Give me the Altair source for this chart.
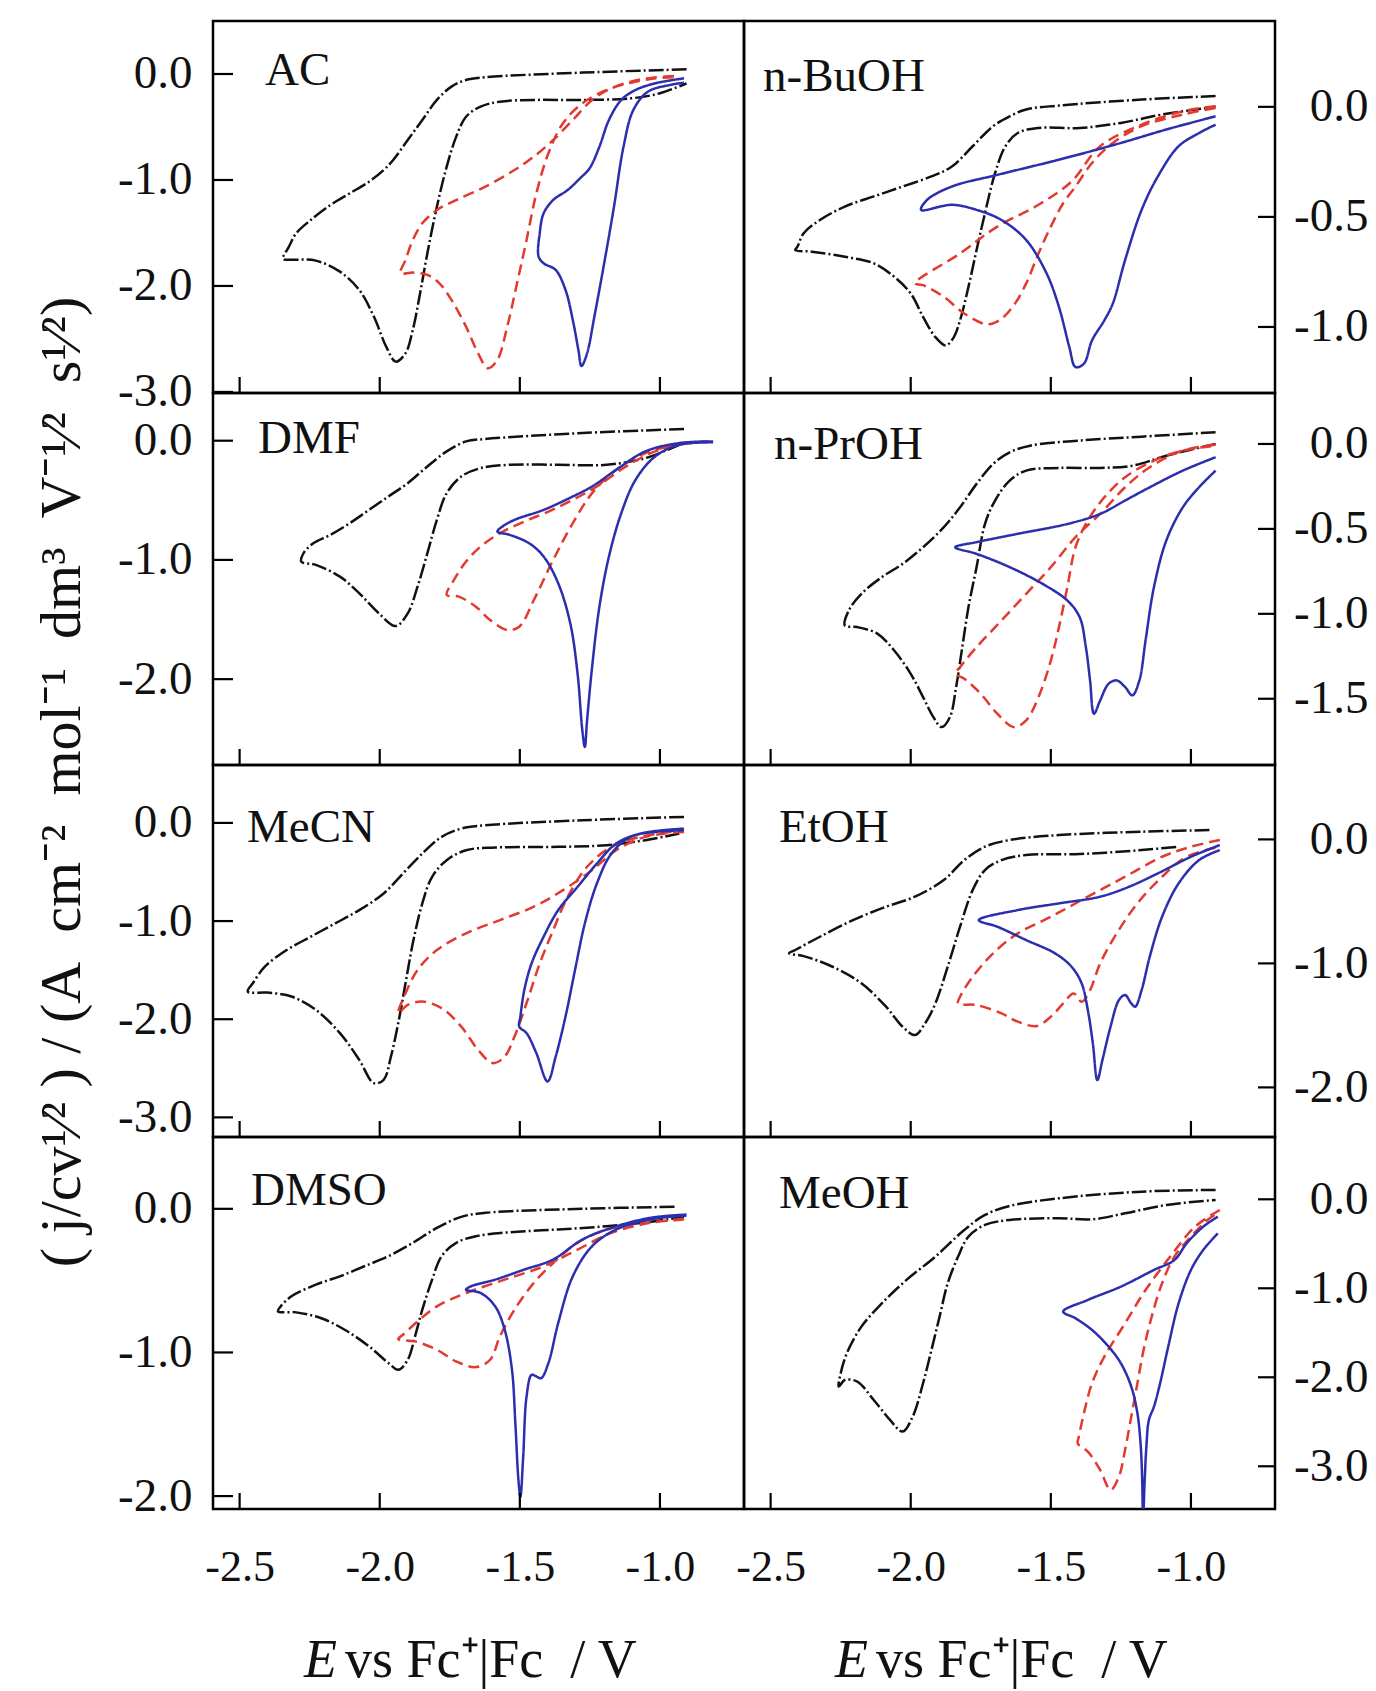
import altair as alt
import pandas as pd

# ---------------- data ----------------
X_DOMAIN = [-2.595, -0.70]
X_TICKS = [-2.5, -2.0, -1.5, -1.0]

PANEL_NAMES = ["AC", "n-BuOH", "DMF", "n-PrOH", "MeCN", "EtOH", "DMSO", "MeOH"]
Y_DOMAINS = [[-3.01, 0.50], [-1.30, 0.39], [-2.72, 0.40], [-1.89, 0.30],
             [-3.20, 0.59], [-2.40, 0.60], [-2.09, 0.50], [-3.48, 0.70]]
Y_TICKS = [[0.0, -1.0, -2.0, -3.0], [0.0, -0.5, -1.0], [0.0, -1.0, -2.0],
           [0.0, -0.5, -1.0, -1.5], [0.0, -1.0, -2.0, -3.0], [0.0, -1.0, -2.0],
           [0.0, -1.0, -2.0], [0.0, -1.0, -2.0, -3.0]]

SERIES = ["dash-dot", "dashed", "solid"]

AC_BLACK = [(-0.905, 0.044), (-1.277, 0.013), (-1.623, -0.031), (-1.692, -0.057), (-1.744, -0.119),
            (-1.796, -0.245), (-1.848, -0.434), (-1.900, -0.623), (-1.952, -0.811), (-1.986, -0.906),
            (-2.038, -1.016), (-2.107, -1.126), (-2.176, -1.236), (-2.246, -1.377), (-2.298, -1.503),
            (-2.324, -1.629), (-2.345, -1.745), (-2.315, -1.752), (-2.228, -1.761), (-2.142, -1.865),
            (-2.073, -2.038), (-2.021, -2.289), (-1.977, -2.572), (-1.943, -2.714), (-1.908, -2.635),
            (-1.882, -2.415), (-1.856, -2.069), (-1.830, -1.692), (-1.796, -1.252), (-1.761, -0.874),
            (-1.727, -0.591), (-1.692, -0.403), (-1.640, -0.308), (-1.571, -0.261), (-1.450, -0.245),
            (-1.277, -0.245), (-1.104, -0.230), (-1.000, -0.182), (-0.905, -0.088)]
AC_RED = [(-0.950, -0.020), (-1.026, -0.035), (-1.104, -0.072), (-1.173, -0.135), (-1.242, -0.245),
          (-1.311, -0.434), (-1.381, -0.623), (-1.450, -0.780), (-1.519, -0.906), (-1.623, -1.063),
          (-1.727, -1.189), (-1.796, -1.283), (-1.848, -1.409), (-1.882, -1.566), (-1.908, -1.755),
          (-1.926, -1.881), (-1.882, -1.874), (-1.830, -1.896), (-1.787, -1.975), (-1.744, -2.132),
          (-1.692, -2.384), (-1.649, -2.635), (-1.614, -2.777), (-1.580, -2.698), (-1.545, -2.384),
          (-1.510, -1.975), (-1.476, -1.566), (-1.441, -1.126), (-1.398, -0.748), (-1.346, -0.465),
          (-1.277, -0.277), (-1.190, -0.151), (-1.104, -0.082), (-1.026, -0.045), (-0.950, -0.030)]
AC_BLUE = [(-0.914, -0.041), (-1.017, -0.088), (-1.087, -0.151), (-1.138, -0.245), (-1.182, -0.434),
           (-1.216, -0.686), (-1.251, -0.890), (-1.285, -0.984), (-1.329, -1.094), (-1.381, -1.189),
           (-1.415, -1.314), (-1.429, -1.503), (-1.433, -1.723), (-1.415, -1.786), (-1.372, -1.849),
           (-1.337, -2.038), (-1.311, -2.321), (-1.291, -2.604), (-1.280, -2.755), (-1.260, -2.635),
           (-1.234, -2.289), (-1.199, -1.786), (-1.164, -1.252), (-1.130, -0.686), (-1.095, -0.340),
           (-1.043, -0.167), (-0.965, -0.104), (-0.914, -0.082)]

BUOH_BLACK = [(-0.912, 0.049), (-1.176, 0.033), (-1.470, 0.006), (-1.588, -0.012), (-1.647, -0.043),
              (-1.706, -0.088), (-1.779, -0.179), (-1.853, -0.271), (-1.926, -0.316), (-2.029, -0.362),
              (-2.132, -0.407), (-2.235, -0.453), (-2.324, -0.514), (-2.382, -0.574), (-2.404, -0.635),
              (-2.412, -0.650), (-2.353, -0.658), (-2.235, -0.681), (-2.132, -0.711), (-2.059, -0.772),
              (-2.000, -0.848), (-1.956, -0.954), (-1.912, -1.046), (-1.875, -1.084), (-1.846, -1.046),
              (-1.824, -0.970), (-1.794, -0.818), (-1.765, -0.650), (-1.735, -0.483), (-1.699, -0.301),
              (-1.662, -0.179), (-1.618, -0.119), (-1.544, -0.096), (-1.397, -0.096), (-1.250, -0.073),
              (-1.103, -0.035), (-0.912, 0.000)]
BUOH_RED = [(-0.912, 0.003), (-1.029, -0.020), (-1.176, -0.081), (-1.324, -0.179), (-1.426, -0.339),
            (-1.544, -0.445), (-1.691, -0.544), (-1.824, -0.666), (-1.985, -0.802), (-1.956, -0.810),
            (-1.882, -0.863), (-1.809, -0.939), (-1.728, -0.988), (-1.684, -0.970), (-1.632, -0.901),
            (-1.588, -0.802), (-1.544, -0.666), (-1.500, -0.544), (-1.456, -0.438), (-1.412, -0.362),
            (-1.353, -0.255), (-1.279, -0.164), (-1.176, -0.088), (-1.029, -0.035), (-0.912, -0.005)]
BUOH_BLUE = [(-0.912, -0.043), (-1.088, -0.103), (-1.250, -0.164), (-1.471, -0.240), (-1.691, -0.309),
             (-1.853, -0.362), (-1.941, -0.422), (-1.963, -0.468), (-1.853, -0.445), (-1.765, -0.468),
             (-1.676, -0.514), (-1.588, -0.605), (-1.515, -0.757), (-1.471, -0.909), (-1.434, -1.091),
             (-1.412, -1.182), (-1.382, -1.167), (-1.353, -1.061), (-1.309, -0.970), (-1.279, -0.894),
             (-1.235, -0.696), (-1.176, -0.468), (-1.118, -0.316), (-1.044, -0.179), (-0.971, -0.119),
             (-0.912, -0.081)]

DMF_BLACK = [(-0.914, 0.098), (-1.277, 0.064), (-1.623, 0.014), (-1.692, -0.006), (-1.761, -0.090),
             (-1.830, -0.216), (-1.900, -0.356), (-1.969, -0.468), (-2.038, -0.580), (-2.107, -0.692),
             (-2.176, -0.790), (-2.237, -0.860), (-2.272, -0.944), (-2.280, -1.014), (-2.228, -1.042),
             (-2.142, -1.140), (-2.073, -1.280), (-2.003, -1.448), (-1.943, -1.555), (-1.900, -1.448),
             (-1.865, -1.224), (-1.830, -0.944), (-1.796, -0.664), (-1.761, -0.440), (-1.709, -0.300),
             (-1.640, -0.230), (-1.536, -0.202), (-1.363, -0.202), (-1.190, -0.202), (-1.052, -0.146),
             (-0.931, -0.034)]
DMF_RED = [(-0.827, -0.006), (-0.896, -0.020), (-1.017, -0.090), (-1.121, -0.216), (-1.225, -0.384),
           (-1.311, -0.496), (-1.398, -0.594), (-1.484, -0.678), (-1.571, -0.776), (-1.640, -0.888),
           (-1.692, -1.014), (-1.735, -1.168), (-1.761, -1.294), (-1.718, -1.308), (-1.657, -1.392),
           (-1.606, -1.504), (-1.545, -1.588), (-1.502, -1.560), (-1.450, -1.336), (-1.381, -1.000),
           (-1.311, -0.692), (-1.242, -0.440), (-1.156, -0.244), (-1.052, -0.104), (-0.931, -0.034),
           (-0.850, -0.010)]
DMF_BLUE = [(-0.810, -0.006), (-0.931, -0.020), (-1.052, -0.090), (-1.156, -0.244), (-1.242, -0.384),
            (-1.311, -0.468), (-1.415, -0.580), (-1.519, -0.664), (-1.562, -0.720), (-1.580, -0.762),
            (-1.536, -0.790), (-1.467, -0.860), (-1.415, -0.972), (-1.363, -1.196), (-1.320, -1.532),
            (-1.294, -1.952), (-1.277, -2.429), (-1.268, -2.569), (-1.260, -2.345), (-1.242, -1.896),
            (-1.216, -1.392), (-1.182, -0.972), (-1.138, -0.608), (-1.087, -0.328), (-1.017, -0.132),
            (-0.931, -0.034), (-0.810, -0.014)]

PROH_BLACK = [(-0.912, 0.069), (-1.176, 0.043), (-1.397, 0.020), (-1.574, -0.010), (-1.647, -0.049),
              (-1.706, -0.118), (-1.765, -0.235), (-1.824, -0.373), (-1.882, -0.490), (-1.956, -0.608),
              (-2.029, -0.706), (-2.103, -0.784), (-2.176, -0.882), (-2.221, -0.980), (-2.235, -1.069),
              (-2.191, -1.078), (-2.118, -1.118), (-2.059, -1.216), (-2.000, -1.353), (-1.956, -1.490),
              (-1.919, -1.608), (-1.890, -1.667), (-1.860, -1.608), (-1.838, -1.431), (-1.816, -1.196),
              (-1.794, -0.961), (-1.765, -0.725), (-1.735, -0.471), (-1.699, -0.333), (-1.647, -0.216),
              (-1.588, -0.157), (-1.471, -0.141), (-1.324, -0.141), (-1.206, -0.127), (-1.088, -0.069),
              (-0.912, 0.000)]
PROH_RED = [(-0.912, -0.005), (-1.029, -0.039), (-1.147, -0.137), (-1.235, -0.255), (-1.324, -0.412),
            (-1.412, -0.549), (-1.500, -0.725), (-1.588, -0.882), (-1.676, -1.039), (-1.765, -1.196),
            (-1.824, -1.314), (-1.841, -1.353), (-1.809, -1.382), (-1.750, -1.471), (-1.691, -1.588),
            (-1.632, -1.667), (-1.588, -1.627), (-1.544, -1.490), (-1.500, -1.275), (-1.471, -1.078),
            (-1.441, -0.843), (-1.412, -0.608), (-1.368, -0.451), (-1.309, -0.314), (-1.235, -0.196),
            (-1.132, -0.098), (-1.029, -0.039), (-0.912, -0.010)]
PROH_BLUE = [(-0.912, -0.078), (-1.029, -0.157), (-1.147, -0.255), (-1.235, -0.333), (-1.324, -0.412),
             (-1.441, -0.471), (-1.618, -0.529), (-1.765, -0.578), (-1.841, -0.608), (-1.765, -0.647),
             (-1.647, -0.725), (-1.529, -0.824), (-1.441, -0.922), (-1.397, -1.020), (-1.375, -1.196),
             (-1.360, -1.392), (-1.346, -1.588), (-1.324, -1.510), (-1.294, -1.412), (-1.265, -1.392),
             (-1.235, -1.431), (-1.209, -1.480), (-1.184, -1.392), (-1.162, -1.157), (-1.132, -0.843),
             (-1.088, -0.569), (-1.029, -0.373), (-0.971, -0.255), (-0.912, -0.157)]

MECN_BLACK = [(-0.914, 0.061), (-1.277, 0.027), (-1.623, -0.024), (-1.709, -0.058), (-1.779, -0.142),
              (-1.848, -0.312), (-1.917, -0.515), (-1.986, -0.719), (-2.073, -0.888), (-2.159, -1.024),
              (-2.246, -1.159), (-2.332, -1.295), (-2.410, -1.464), (-2.453, -1.634), (-2.471, -1.719),
              (-2.401, -1.729), (-2.315, -1.769), (-2.228, -1.905), (-2.142, -2.142), (-2.073, -2.414),
              (-2.021, -2.651), (-1.986, -2.617), (-1.960, -2.380), (-1.934, -2.041), (-1.908, -1.634),
              (-1.882, -1.227), (-1.848, -0.820), (-1.813, -0.549), (-1.761, -0.380), (-1.692, -0.278),
              (-1.588, -0.251), (-1.363, -0.244), (-1.190, -0.227), (-1.052, -0.176), (-0.931, -0.108)]
MECN_RED = [(-0.914, -0.092), (-1.052, -0.142), (-1.156, -0.278), (-1.242, -0.481), (-1.346, -0.685),
            (-1.450, -0.854), (-1.571, -0.990), (-1.692, -1.125), (-1.796, -1.295), (-1.865, -1.498),
            (-1.908, -1.736), (-1.934, -1.939), (-1.900, -1.854), (-1.848, -1.820), (-1.779, -1.888),
            (-1.709, -2.075), (-1.649, -2.312), (-1.597, -2.447), (-1.554, -2.380), (-1.519, -2.176),
            (-1.476, -1.837), (-1.433, -1.464), (-1.381, -1.092), (-1.329, -0.753), (-1.260, -0.447),
            (-1.173, -0.244), (-1.069, -0.142), (-0.914, -0.075)]
MECN_BLUE = [(-0.914, -0.058), (-1.069, -0.108), (-1.156, -0.210), (-1.225, -0.414), (-1.294, -0.651),
             (-1.363, -0.888), (-1.415, -1.159), (-1.458, -1.431), (-1.484, -1.702), (-1.498, -1.973),
             (-1.502, -2.075), (-1.476, -2.142), (-1.441, -2.346), (-1.401, -2.634), (-1.372, -2.380),
             (-1.337, -1.973), (-1.303, -1.498), (-1.268, -1.024), (-1.225, -0.617), (-1.173, -0.312),
             (-1.104, -0.142), (-1.017, -0.092), (-0.914, -0.075)]

ETOH_BLACK = [(-0.934, 0.075), (-1.176, 0.062), (-1.471, 0.035), (-1.647, -0.005), (-1.735, -0.059),
              (-1.809, -0.167), (-1.882, -0.328), (-1.985, -0.462), (-2.088, -0.543), (-2.206, -0.651),
              (-2.324, -0.785), (-2.412, -0.892), (-2.434, -0.919), (-2.382, -0.941), (-2.279, -1.027),
              (-2.176, -1.161), (-2.088, -1.349), (-2.029, -1.511), (-1.985, -1.578), (-1.949, -1.484),
              (-1.912, -1.323), (-1.868, -1.027), (-1.824, -0.704), (-1.779, -0.409), (-1.735, -0.247),
              (-1.676, -0.167), (-1.588, -0.126), (-1.397, -0.118), (-1.176, -0.086), (-1.044, -0.059)]
ETOH_RED = [(-0.897, -0.005), (-1.000, -0.059), (-1.103, -0.140), (-1.235, -0.301), (-1.368, -0.462),
            (-1.500, -0.624), (-1.618, -0.758), (-1.706, -0.919), (-1.779, -1.108), (-1.824, -1.269),
            (-1.831, -1.323), (-1.765, -1.336), (-1.676, -1.403), (-1.618, -1.470), (-1.551, -1.505),
            (-1.500, -1.430), (-1.456, -1.323), (-1.419, -1.242), (-1.390, -1.309), (-1.360, -1.215),
            (-1.324, -1.000), (-1.265, -0.758), (-1.191, -0.516), (-1.103, -0.301), (-1.015, -0.140),
            (-0.897, -0.059)]
ETOH_BLUE = [(-0.897, -0.046), (-1.000, -0.140), (-1.118, -0.274), (-1.221, -0.382), (-1.324, -0.462),
             (-1.471, -0.516), (-1.618, -0.570), (-1.757, -0.651), (-1.691, -0.704), (-1.588, -0.812),
             (-1.485, -0.919), (-1.426, -1.027), (-1.390, -1.161), (-1.368, -1.376), (-1.350, -1.645),
             (-1.334, -1.941), (-1.316, -1.780), (-1.287, -1.511), (-1.257, -1.296), (-1.235, -1.255),
             (-1.213, -1.323), (-1.199, -1.349), (-1.176, -1.215), (-1.147, -0.946), (-1.103, -0.624),
             (-1.044, -0.355), (-0.971, -0.167), (-0.897, -0.086)]

DMSO_BLACK = [(-0.948, 0.014), (-1.277, 0.000), (-1.623, -0.028), (-1.709, -0.056), (-1.796, -0.133),
              (-1.882, -0.237), (-1.969, -0.330), (-2.055, -0.400), (-2.142, -0.470), (-2.228, -0.528),
              (-2.315, -0.609), (-2.353, -0.679), (-2.363, -0.714), (-2.298, -0.721), (-2.211, -0.760),
              (-2.125, -0.842), (-2.038, -0.958), (-1.969, -1.074), (-1.934, -1.121), (-1.900, -1.051),
              (-1.874, -0.888), (-1.848, -0.702), (-1.813, -0.493), (-1.779, -0.330), (-1.727, -0.237),
              (-1.657, -0.191), (-1.536, -0.163), (-1.363, -0.144), (-1.190, -0.121), (-1.017, -0.086),
              (-0.914, -0.056)]
DMSO_RED = [(-0.914, -0.070), (-1.035, -0.098), (-1.173, -0.167), (-1.294, -0.284), (-1.415, -0.400),
            (-1.554, -0.493), (-1.692, -0.586), (-1.796, -0.679), (-1.865, -0.784), (-1.917, -0.877),
            (-1.934, -0.907), (-1.874, -0.923), (-1.796, -0.981), (-1.727, -1.063), (-1.657, -1.102),
            (-1.606, -1.051), (-1.571, -0.888), (-1.519, -0.702), (-1.450, -0.516), (-1.381, -0.377),
            (-1.294, -0.237), (-1.190, -0.144), (-1.052, -0.098), (-0.914, -0.074)]
DMSO_BLUE = [(-0.905, -0.040), (-1.035, -0.063), (-1.173, -0.133), (-1.277, -0.214), (-1.381, -0.353),
             (-1.484, -0.423), (-1.588, -0.493), (-1.675, -0.540), (-1.692, -0.563), (-1.640, -0.586),
             (-1.588, -0.679), (-1.554, -0.842), (-1.528, -1.121), (-1.516, -1.493), (-1.505, -1.888),
             (-1.498, -2.005), (-1.488, -1.726), (-1.476, -1.307), (-1.458, -1.156), (-1.441, -1.167),
             (-1.424, -1.179), (-1.398, -1.074), (-1.363, -0.795), (-1.311, -0.470), (-1.242, -0.260),
             (-1.156, -0.144), (-1.035, -0.074), (-0.905, -0.047)]

MEOH_BLACK = [(-0.912, 0.105), (-1.176, 0.086), (-1.471, 0.011), (-1.647, -0.075), (-1.735, -0.176),
              (-1.809, -0.345), (-1.912, -0.644), (-2.015, -0.906), (-2.103, -1.169), (-2.176, -1.431),
              (-2.228, -1.730), (-2.250, -1.955), (-2.257, -2.105), (-2.235, -2.030), (-2.191, -2.049),
              (-2.132, -2.255), (-2.074, -2.479), (-2.029, -2.610), (-1.993, -2.442), (-1.956, -2.067),
              (-1.926, -1.693), (-1.897, -1.318), (-1.868, -0.944), (-1.831, -0.644), (-1.794, -0.419),
              (-1.735, -0.288), (-1.647, -0.232), (-1.471, -0.213), (-1.353, -0.225), (-1.235, -0.157),
              (-1.088, -0.064), (-0.912, -0.007)]
MEOH_RED = [(-0.897, -0.120), (-0.985, -0.307), (-1.074, -0.644), (-1.162, -1.019), (-1.235, -1.393),
            (-1.309, -1.768), (-1.353, -2.067), (-1.382, -2.404), (-1.400, -2.667), (-1.404, -2.742),
            (-1.368, -2.835), (-1.324, -3.041), (-1.287, -3.266), (-1.257, -3.116), (-1.235, -2.816),
            (-1.213, -2.442), (-1.191, -2.067), (-1.169, -1.693), (-1.140, -1.318), (-1.103, -0.944),
            (-1.059, -0.644), (-1.000, -0.419), (-0.941, -0.232), (-0.897, -0.139)]
MEOH_BLUE = [(-0.904, -0.195), (-0.956, -0.307), (-1.015, -0.494), (-1.059, -0.682), (-1.132, -0.794),
             (-1.250, -0.981), (-1.368, -1.131), (-1.456, -1.262), (-1.412, -1.337), (-1.353, -1.468),
             (-1.294, -1.655), (-1.250, -1.843), (-1.213, -2.105), (-1.191, -2.404), (-1.179, -2.779),
             (-1.174, -3.154), (-1.171, -3.600), (-1.165, -3.154), (-1.159, -2.779), (-1.150, -2.479),
             (-1.132, -2.330), (-1.110, -2.067), (-1.081, -1.655), (-1.044, -1.169), (-1.000, -0.794),
             (-0.956, -0.569), (-0.904, -0.382)]

CURVES = [
    [AC_BLACK, AC_RED, AC_BLUE],
    [BUOH_BLACK, BUOH_RED, BUOH_BLUE],
    [DMF_BLACK, DMF_RED, DMF_BLUE],
    [PROH_BLACK, PROH_RED, PROH_BLUE],
    [MECN_BLACK, MECN_RED, MECN_BLUE],
    [ETOH_BLACK, ETOH_RED, ETOH_BLUE],
    [DMSO_BLACK, DMSO_RED, DMSO_BLUE],
    [MEOH_BLACK, MEOH_RED, MEOH_BLUE],
]

Y_TITLE = ("( j/cv\u00b9\u2044\u00b2 ) / (A\u2002cm\u207b\u00b2\u2002mol\u207b\u00b9\u2002dm\u00b3"
           "\u2002V\u207b\u00b9\u2044\u00b2\u2002s\u00b9\u2044\u00b2)")
X_TITLE_E = "E"
X_TITLE_REST = "vs Fc\u207a|Fc\u2002/ V"

# ---------------- style ----------------
W, H = 531, 372
FONT = "Liberation Serif"
COLORS = ["#111111", "#e23a30", "#2b2fae"]
DASHES = [[15, 3, 2, 3], [11, 6], [1, 0]]
LABEL_POS = [(52, 50), (19, 56), (45, 46), (30, 52), (34, 63), (35, 63), (38, 54), (35, 57)]
LAB_EXPR = "replace(format(datum.value, '.1f'), '\u2212', '-')"


def curve_frame(curves):
    rows = []
    for s, pts in zip(SERIES, curves):
        for i, (x, y) in enumerate(pts):
            rows.append({"x": x, "y": y, "s": s, "i": i})
    return pd.DataFrame(rows)


def panel(k):
    col, row = k % 2, k // 2
    xs = alt.Scale(domain=X_DOMAIN, nice=False, zero=False)
    ys = alt.Scale(domain=Y_DOMAINS[k], nice=False, zero=False)
    if col == 0:
        yaxis = alt.Axis(orient="left", values=Y_TICKS[k], ticks=False, domain=False, grid=False,
                         labelPadding=21, labelExpr=LAB_EXPR, title=None, labelFontSize=47)
    else:
        yaxis = alt.Axis(orient="right", values=Y_TICKS[k], ticks=False, domain=False, grid=False,
                         labelPadding=93, labelAlign="right", labelExpr=LAB_EXPR, title=None,
                         labelFontSize=47)
    if row == 3:
        xaxis = alt.Axis(values=X_TICKS, ticks=False, domain=False, grid=False, labelPadding=36,
                         labelExpr=LAB_EXPR, title=None, labelFontSize=44, labelFlush=False)
    else:
        xaxis = None

    lines = alt.Chart(curve_frame(CURVES[k])).mark_line(
        clip=True, strokeWidth=2.5, interpolate="catmull-rom"
    ).encode(
        x=alt.X("x:Q", scale=xs, axis=xaxis),
        y=alt.Y("y:Q", scale=ys, axis=yaxis),
        color=alt.Color("s:N", scale=alt.Scale(domain=SERIES, range=COLORS), legend=None),
        strokeDash=alt.StrokeDash("s:N", scale=alt.Scale(domain=SERIES, range=DASHES), legend=None),
        order="i:Q",
    )

    x0, x1 = (0, 20) if col == 0 else (W - 17, W)
    ytick = alt.Chart(pd.DataFrame({"y": Y_TICKS[k]})).mark_rule(color="black", strokeWidth=2.2).encode(
        y=alt.Y("y:Q", scale=ys, axis=yaxis), x=alt.value(x0), x2=alt.value(x1))
    xtick = alt.Chart(pd.DataFrame({"x": X_TICKS})).mark_rule(color="black", strokeWidth=2.2).encode(
        x=alt.X("x:Q", scale=xs, axis=xaxis), y=alt.value(H), y2=alt.value(H - 16))

    lx, ly = LABEL_POS[k]
    label = alt.Chart(pd.DataFrame({"t": [PANEL_NAMES[k]]})).mark_text(
        align="left", baseline="middle", font=FONT, fontSize=47, color="#111111"
    ).encode(x=alt.value(lx), y=alt.value(ly), text="t:N")

    layers = [lines, ytick, xtick, label]

    if k == 2:
        layers.append(alt.Chart(pd.DataFrame({"t": [Y_TITLE]})).mark_text(
            angle=270, align="center", baseline="alphabetic", font=FONT, fontSize=58, color="#111111"
        ).encode(x=alt.value(-133), y=alt.value(389), text="t:N"))
    if row == 3:
        layers.append(alt.Chart(pd.DataFrame({"t": [X_TITLE_E]})).mark_text(
            align="left", baseline="alphabetic", font=FONT, fontSize=54, fontStyle="italic", color="#111111"
        ).encode(x=alt.value(91), y=alt.value(H + 168), text="t:N"))
        layers.append(alt.Chart(pd.DataFrame({"t": [X_TITLE_REST]})).mark_text(
            align="left", baseline="alphabetic", font=FONT, fontSize=54, color="#111111"
        ).encode(x=alt.value(132), y=alt.value(H + 168), text="t:N"))

    return alt.layer(*layers).properties(width=W, height=H)


chart = alt.concat(*[panel(k) for k in range(8)], columns=2, spacing=0, bounds="flush").properties(
    padding={"left": 32, "top": 19, "right": 0, "bottom": 0}
).configure_view(
    stroke="black", strokeWidth=2.5
).configure_axis(
    labelFont=FONT, labelColor="#111111"
)

chart.save("out.html", embed_options={"renderer": "svg", "actions": False})
